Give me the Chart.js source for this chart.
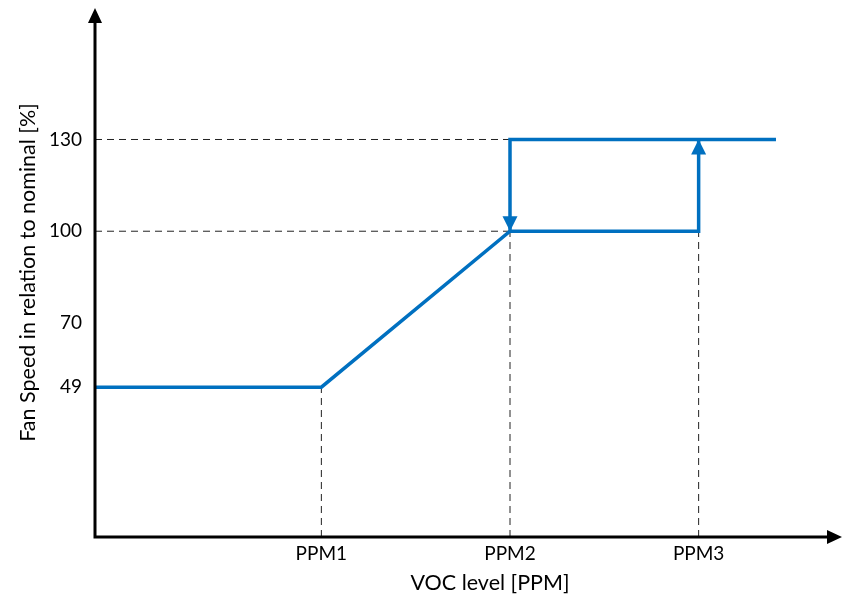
<!DOCTYPE html>
<html>
<head>
<meta charset="utf-8">
<script src="https://cdn.jsdelivr.net/npm/chart.js@4/dist/chart.umd.min.js"></script>
<style>
  html, body { margin: 0; padding: 0; background: #fff; }
  #wrap { width: 843px; height: 601px; }
</style>
</head>
<body>
<div id="wrap"><canvas id="c" width="843" height="601"></canvas></div>
<script>
// ---- data ----
const xTickValues = [1, 2, 3];
const xTickLabels = ['PPM1', 'PPM2', 'PPM3'];
const yTickValues = [49, 70, 100, 130];
const xAxisMin = -0.2, xAxisMax = 3.76;
const yAxisMin = 0, yAxisMax = 173;
// rising path: low speed until PPM1, ramp to PPM2, hold 100 to PPM3, step up to 130
const risingX = [-0.2, 1, 2, 3, 3];
const risingY = [49, 49, 100, 100, 130];
// falling path: 130 until PPM2, step down to 100
const fallingX = [3.41, 2, 2];
const fallingY = [130, 130, 100];
// dashed guide lines
const guides = [
  { x: [-0.2, 2], y: [130, 130] },
  { x: [-0.2, 2], y: [100, 100] },
  { x: [1, 1], y: [0, 49] },
  { x: [2, 2], y: [0, 100] },
  { x: [3, 3], y: [0, 100] }
];
const xTitle = 'VOC level [PPM]';
const yTitle = 'Fan Speed in relation to nominal [%]';

const BLUE = '#0070C0';
const FONT = 'Lato, "Open Sans", sans-serif';

function pts(xs, ys) { return xs.map((x, i) => ({ x: x, y: ys[i] })); }

const datasets = [
  { data: pts(risingX, risingY), borderColor: BLUE, borderWidth: 3.5, pointRadius: 0, order: 0, arrow: true, clip: false, borderJoinStyle: 'miter', borderCapStyle: 'butt' },
  { data: pts(fallingX, fallingY), borderColor: BLUE, borderWidth: 3.5, pointRadius: 0, order: 0, arrow: true, clip: false, borderJoinStyle: 'miter', borderCapStyle: 'butt' }
];
guides.forEach(g => datasets.push({
  data: pts(g.x, g.y), borderColor: '#222', borderWidth: 1, borderDash: [7, 5],
  pointRadius: 0, order: 5, clip: false
}));

const axesPlugin = {
  id: 'axesArrows',
  afterDatasetsDraw(chart) {
    const ctx = chart.ctx, a = chart.chartArea;
    const xs = chart.scales.x, ys = chart.scales.y;
    ctx.save();
    ctx.strokeStyle = '#000'; ctx.fillStyle = '#000'; ctx.lineWidth = 3;
    const ox = a.left, oy = a.bottom;
    ctx.beginPath();
    ctx.moveTo(ox, oy + 1.5); ctx.lineTo(ox, a.top + 12);
    ctx.moveTo(ox - 1.5, oy); ctx.lineTo(a.right - 12, oy);
    ctx.stroke();
    ctx.beginPath();
    ctx.moveTo(ox, a.top); ctx.lineTo(ox - 7, a.top + 15); ctx.lineTo(ox + 7, a.top + 15); ctx.closePath(); ctx.fill();
    ctx.beginPath();
    ctx.moveTo(a.right, oy); ctx.lineTo(a.right - 15, oy - 7); ctx.lineTo(a.right - 15, oy + 7); ctx.closePath(); ctx.fill();
    chart.data.datasets.forEach(ds => {
      if (!ds.arrow) return;
      const d = ds.data, n = d.length;
      const px = xs.getPixelForValue(d[n - 1].x), py = ys.getPixelForValue(d[n - 1].y);
      const qx = xs.getPixelForValue(d[n - 2].x), qy = ys.getPixelForValue(d[n - 2].y);
      const ang = Math.atan2(py - qy, px - qx);
      const L = 15, W = 7.5;
      ctx.fillStyle = ds.borderColor;
      ctx.beginPath();
      ctx.moveTo(px, py);
      ctx.lineTo(px - L * Math.cos(ang) - W * Math.sin(ang), py - L * Math.sin(ang) + W * Math.cos(ang));
      ctx.lineTo(px - L * Math.cos(ang) + W * Math.sin(ang), py - L * Math.sin(ang) - W * Math.cos(ang));
      ctx.closePath(); ctx.fill();
    });
    // x-axis title (centred under the plotted span, as in the reference)
    ctx.fillStyle = '#000';
    ctx.font = '21.5px ' + FONT;
    ctx.textAlign = 'center';
    ctx.textBaseline = 'middle';
    ctx.fillText(xTitle, 490, 583);
    ctx.restore();
  }
};

new Chart(document.getElementById('c'), {
  type: 'line',
  data: { datasets: datasets },
  options: {
    responsive: false,
    animation: false,
    events: [],
    layout: { padding: { top: 8, right: 1, left: 0, bottom: 0 } },
    plugins: { legend: { display: false }, tooltip: { enabled: false } },
    scales: {
      x: {
        type: 'linear', min: xAxisMin, max: xAxisMax,
        grid: { display: false, drawTicks: false, tickLength: 0 }, border: { display: false },
        afterBuildTicks(s) { s.ticks = xTickValues.map(v => ({ value: v })); },
        afterFit(s) { s.height = 64; s.paddingLeft = 0; s.paddingRight = 0; },
        ticks: {
          autoSkip: false, maxRotation: 0, padding: 5, color: '#000',
          font: { family: FONT, size: 19 },
          callback(v) { const i = xTickValues.indexOf(v); return i >= 0 ? xTickLabels[i] : ''; }
        },
        title: { display: false, text: xTitle }
      },
      y: {
        type: 'linear', min: yAxisMin, max: yAxisMax,
        grid: { display: false, drawTicks: false, tickLength: 0 }, border: { display: false },
        afterBuildTicks(s) { s.ticks = yTickValues.map(v => ({ value: v })); },
        afterFit(s) { s.width = 95; s.paddingTop = 0; s.paddingBottom = 0; },
        ticks: { autoSkip: false, padding: 13, color: '#000', font: { family: FONT, size: 19 },
          callback(v) { return String(v); } },
        title: { display: true, text: yTitle, color: '#000', font: { family: FONT, size: 21.5 }, padding: { top: 15, bottom: 0 } }
      }
    }
  },
  plugins: [axesPlugin]
});
</script>
</body>
</html>
